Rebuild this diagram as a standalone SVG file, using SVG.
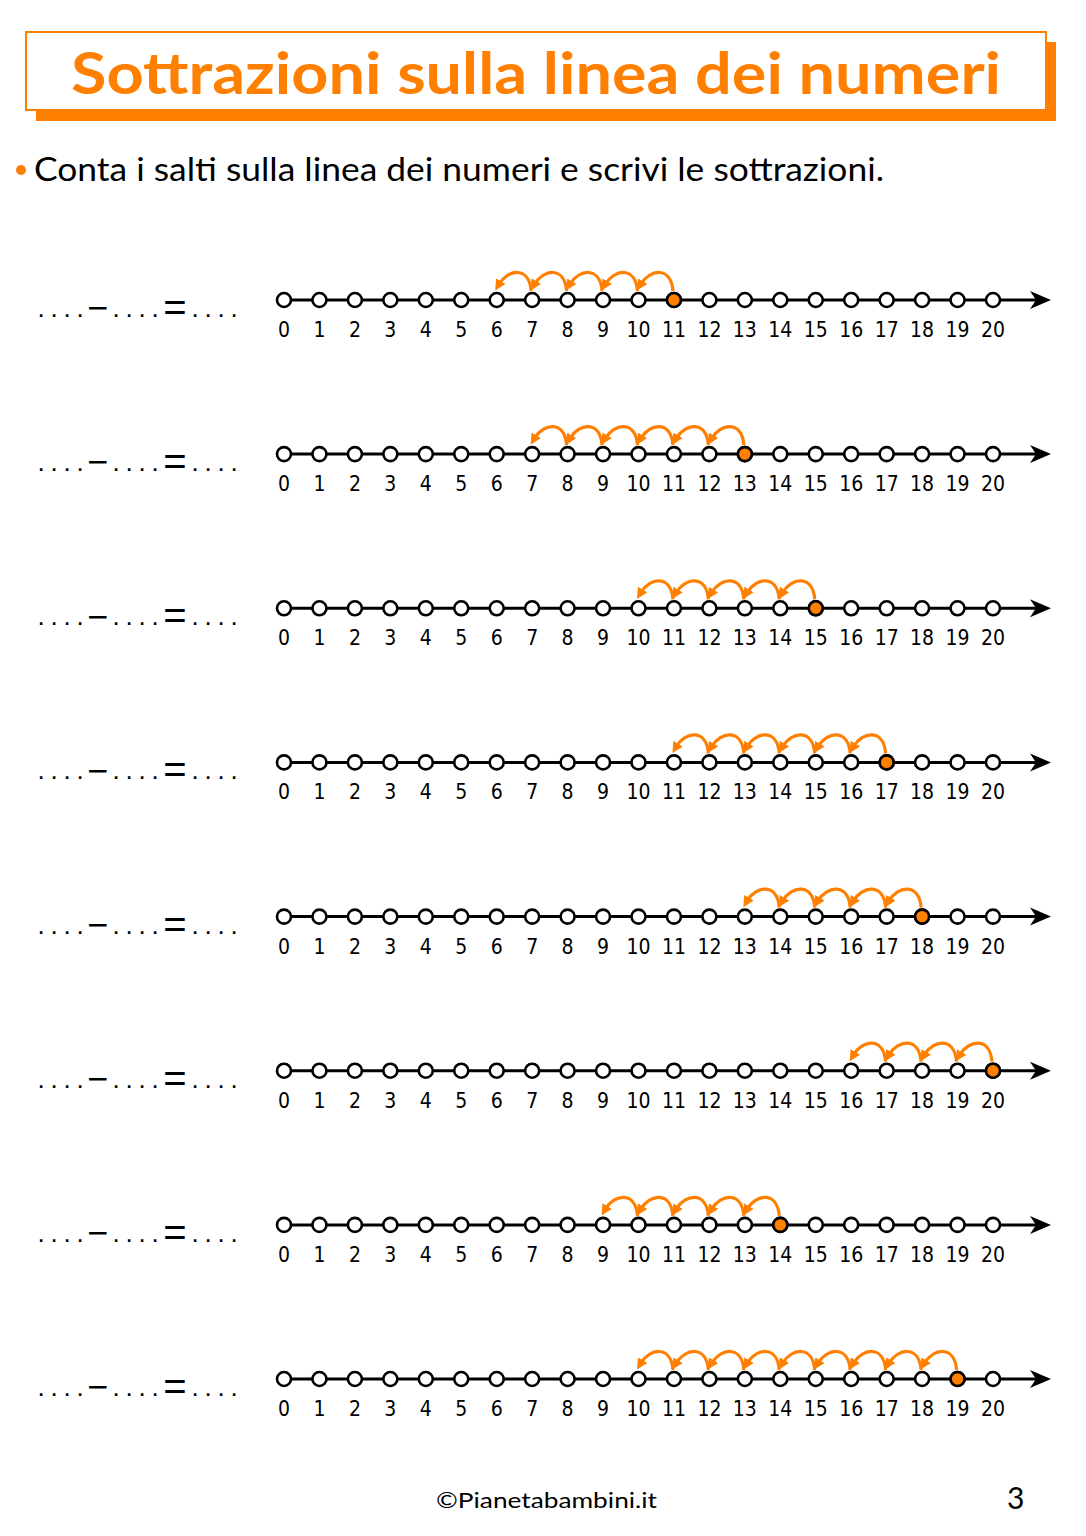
<svg xmlns="http://www.w3.org/2000/svg" xmlns:xlink="http://www.w3.org/1999/xlink" width="1086" height="1536" viewBox="0 0 1086 1536">
<style>
.ax{stroke:#000;stroke-width:3;fill:none}
.c{fill:#fff;stroke:#000;stroke-width:2.6}
.on{fill:#FF7F00;stroke:#000;stroke-width:2.6}
.n{font-family:"DejaVu Sans Condensed","DejaVu Sans",sans-serif;font-size:21px;text-anchor:middle;fill:#000}
.eq{font-family:"Liberation Sans",Arial,sans-serif;font-size:26px;fill:#000}
.mi{font-size:36px}
.es{font-size:40px}
.jp{fill:none;stroke:#FF7F00;stroke-width:3.2;marker-end:url(#ah)}
.tt{font-family:Lato,"Open Sans",sans-serif;font-weight:bold;font-size:58px;fill:#FF7F00;text-anchor:middle}
.st{font-family:Lato,"Open Sans",sans-serif;font-size:32px;fill:#000}
.ft{font-family:Lato,"Open Sans",sans-serif;font-size:22px;fill:#000}
</style>
<defs>
<marker id="ah" viewBox="0 0 10 10" refX="3" refY="5" markerWidth="11" markerHeight="11" markerUnits="userSpaceOnUse" orient="auto">
<path d="M0,0 L10,5 L0,10 z" fill="#FF7F00"/>
</marker>
<circle id="c" r="7" class="c"/>
<path id="j" d="M-1,-9 C-3,-34 -24,-31 -33,-16" class="jp"/>
<polygon id="ar" points="1051,0 1030,-9 1036,0 1030,9" fill="#000"/>
</defs>

<g id="title">
<rect x="36" y="42" width="1020" height="79" fill="#FF7F00"/>
<rect x="26" y="32" width="1020" height="78" fill="#fff" stroke="#FF7F00" stroke-width="2"/>
<text x="536" y="94" class="tt" textLength="930" lengthAdjust="spacingAndGlyphs">Sottrazioni sulla linea dei numeri</text>
</g>

<g id="instruction">
<circle cx="21" cy="170" r="5" fill="#FF7F00"/>
<text x="34" y="181" class="st" textLength="850" lengthAdjust="spacingAndGlyphs">Conta i salti sulla linea dei numeri e scrivi le sottrazioni.</text>
</g>

<g id="row1" transform="translate(0,300)">
<text class="eq"><tspan x="37.4 50.4 63.4 76.4" y="17">....</tspan><tspan class="mi" x="87.2" y="20.2">−</tspan><tspan x="112.4 125.4 138.4 151.4" y="17">....</tspan><tspan class="es" x="163.3" y="21">=</tspan><tspan x="191.4 204.4 217.4 230.4" y="17">....</tspan></text>
<line x1="284" y1="0" x2="1040" y2="0" class="ax"/><use href="#ar"/>
<use href="#c" x="284"/><use href="#c" x="319.45"/><use href="#c" x="354.9"/><use href="#c" x="390.35"/><use href="#c" x="425.8"/><use href="#c" x="461.25"/><use href="#c" x="496.7"/><use href="#c" x="532.15"/><use href="#c" x="567.6"/><use href="#c" x="603.05"/><use href="#c" x="638.5"/><use href="#c" x="673.95"/><use href="#c" x="709.4"/><use href="#c" x="744.85"/><use href="#c" x="780.3"/><use href="#c" x="815.75"/><use href="#c" x="851.2"/><use href="#c" x="886.65"/><use href="#c" x="922.1"/><use href="#c" x="957.55"/><use href="#c" x="993"/>
<circle cx="673.95" cy="0" r="7" class="on"/>
<text class="n" x="284" y="37">0</text><text class="n" x="319.45" y="37">1</text><text class="n" x="354.9" y="37">2</text><text class="n" x="390.35" y="37">3</text><text class="n" x="425.8" y="37">4</text><text class="n" x="461.25" y="37">5</text><text class="n" x="496.7" y="37">6</text><text class="n" x="532.15" y="37">7</text><text class="n" x="567.6" y="37">8</text><text class="n" x="603.05" y="37">9</text><text class="n" x="638.5" y="37">10</text><text class="n" x="673.95" y="37">11</text><text class="n" x="709.4" y="37">12</text><text class="n" x="744.85" y="37">13</text><text class="n" x="780.3" y="37">14</text><text class="n" x="815.75" y="37">15</text><text class="n" x="851.2" y="37">16</text><text class="n" x="886.65" y="37">17</text><text class="n" x="922.1" y="37">18</text><text class="n" x="957.55" y="37">19</text><text class="n" x="993" y="37">20</text>
</g>

<g id="row2" transform="translate(0,454.1)">
<text class="eq"><tspan x="37.4 50.4 63.4 76.4" y="17">....</tspan><tspan class="mi" x="87.2" y="20.2">−</tspan><tspan x="112.4 125.4 138.4 151.4" y="17">....</tspan><tspan class="es" x="163.3" y="21">=</tspan><tspan x="191.4 204.4 217.4 230.4" y="17">....</tspan></text>
<line x1="284" y1="0" x2="1040" y2="0" class="ax"/><use href="#ar"/>
<use href="#c" x="284"/><use href="#c" x="319.45"/><use href="#c" x="354.9"/><use href="#c" x="390.35"/><use href="#c" x="425.8"/><use href="#c" x="461.25"/><use href="#c" x="496.7"/><use href="#c" x="532.15"/><use href="#c" x="567.6"/><use href="#c" x="603.05"/><use href="#c" x="638.5"/><use href="#c" x="673.95"/><use href="#c" x="709.4"/><use href="#c" x="744.85"/><use href="#c" x="780.3"/><use href="#c" x="815.75"/><use href="#c" x="851.2"/><use href="#c" x="886.65"/><use href="#c" x="922.1"/><use href="#c" x="957.55"/><use href="#c" x="993"/>
<circle cx="744.85" cy="0" r="7" class="on"/>
<text class="n" x="284" y="37">0</text><text class="n" x="319.45" y="37">1</text><text class="n" x="354.9" y="37">2</text><text class="n" x="390.35" y="37">3</text><text class="n" x="425.8" y="37">4</text><text class="n" x="461.25" y="37">5</text><text class="n" x="496.7" y="37">6</text><text class="n" x="532.15" y="37">7</text><text class="n" x="567.6" y="37">8</text><text class="n" x="603.05" y="37">9</text><text class="n" x="638.5" y="37">10</text><text class="n" x="673.95" y="37">11</text><text class="n" x="709.4" y="37">12</text><text class="n" x="744.85" y="37">13</text><text class="n" x="780.3" y="37">14</text><text class="n" x="815.75" y="37">15</text><text class="n" x="851.2" y="37">16</text><text class="n" x="886.65" y="37">17</text><text class="n" x="922.1" y="37">18</text><text class="n" x="957.55" y="37">19</text><text class="n" x="993" y="37">20</text>
</g>

<g id="row3" transform="translate(0,608.3)">
<text class="eq"><tspan x="37.4 50.4 63.4 76.4" y="17">....</tspan><tspan class="mi" x="87.2" y="20.2">−</tspan><tspan x="112.4 125.4 138.4 151.4" y="17">....</tspan><tspan class="es" x="163.3" y="21">=</tspan><tspan x="191.4 204.4 217.4 230.4" y="17">....</tspan></text>
<line x1="284" y1="0" x2="1040" y2="0" class="ax"/><use href="#ar"/>
<use href="#c" x="284"/><use href="#c" x="319.45"/><use href="#c" x="354.9"/><use href="#c" x="390.35"/><use href="#c" x="425.8"/><use href="#c" x="461.25"/><use href="#c" x="496.7"/><use href="#c" x="532.15"/><use href="#c" x="567.6"/><use href="#c" x="603.05"/><use href="#c" x="638.5"/><use href="#c" x="673.95"/><use href="#c" x="709.4"/><use href="#c" x="744.85"/><use href="#c" x="780.3"/><use href="#c" x="815.75"/><use href="#c" x="851.2"/><use href="#c" x="886.65"/><use href="#c" x="922.1"/><use href="#c" x="957.55"/><use href="#c" x="993"/>
<circle cx="815.75" cy="0" r="7" class="on"/>
<text class="n" x="284" y="37">0</text><text class="n" x="319.45" y="37">1</text><text class="n" x="354.9" y="37">2</text><text class="n" x="390.35" y="37">3</text><text class="n" x="425.8" y="37">4</text><text class="n" x="461.25" y="37">5</text><text class="n" x="496.7" y="37">6</text><text class="n" x="532.15" y="37">7</text><text class="n" x="567.6" y="37">8</text><text class="n" x="603.05" y="37">9</text><text class="n" x="638.5" y="37">10</text><text class="n" x="673.95" y="37">11</text><text class="n" x="709.4" y="37">12</text><text class="n" x="744.85" y="37">13</text><text class="n" x="780.3" y="37">14</text><text class="n" x="815.75" y="37">15</text><text class="n" x="851.2" y="37">16</text><text class="n" x="886.65" y="37">17</text><text class="n" x="922.1" y="37">18</text><text class="n" x="957.55" y="37">19</text><text class="n" x="993" y="37">20</text>
</g>

<g id="row4" transform="translate(0,762.4)">
<text class="eq"><tspan x="37.4 50.4 63.4 76.4" y="17">....</tspan><tspan class="mi" x="87.2" y="20.2">−</tspan><tspan x="112.4 125.4 138.4 151.4" y="17">....</tspan><tspan class="es" x="163.3" y="21">=</tspan><tspan x="191.4 204.4 217.4 230.4" y="17">....</tspan></text>
<line x1="284" y1="0" x2="1040" y2="0" class="ax"/><use href="#ar"/>
<use href="#c" x="284"/><use href="#c" x="319.45"/><use href="#c" x="354.9"/><use href="#c" x="390.35"/><use href="#c" x="425.8"/><use href="#c" x="461.25"/><use href="#c" x="496.7"/><use href="#c" x="532.15"/><use href="#c" x="567.6"/><use href="#c" x="603.05"/><use href="#c" x="638.5"/><use href="#c" x="673.95"/><use href="#c" x="709.4"/><use href="#c" x="744.85"/><use href="#c" x="780.3"/><use href="#c" x="815.75"/><use href="#c" x="851.2"/><use href="#c" x="886.65"/><use href="#c" x="922.1"/><use href="#c" x="957.55"/><use href="#c" x="993"/>
<circle cx="886.65" cy="0" r="7" class="on"/>
<text class="n" x="284" y="37">0</text><text class="n" x="319.45" y="37">1</text><text class="n" x="354.9" y="37">2</text><text class="n" x="390.35" y="37">3</text><text class="n" x="425.8" y="37">4</text><text class="n" x="461.25" y="37">5</text><text class="n" x="496.7" y="37">6</text><text class="n" x="532.15" y="37">7</text><text class="n" x="567.6" y="37">8</text><text class="n" x="603.05" y="37">9</text><text class="n" x="638.5" y="37">10</text><text class="n" x="673.95" y="37">11</text><text class="n" x="709.4" y="37">12</text><text class="n" x="744.85" y="37">13</text><text class="n" x="780.3" y="37">14</text><text class="n" x="815.75" y="37">15</text><text class="n" x="851.2" y="37">16</text><text class="n" x="886.65" y="37">17</text><text class="n" x="922.1" y="37">18</text><text class="n" x="957.55" y="37">19</text><text class="n" x="993" y="37">20</text>
</g>

<g id="row5" transform="translate(0,916.6)">
<text class="eq"><tspan x="37.4 50.4 63.4 76.4" y="17">....</tspan><tspan class="mi" x="87.2" y="20.2">−</tspan><tspan x="112.4 125.4 138.4 151.4" y="17">....</tspan><tspan class="es" x="163.3" y="21">=</tspan><tspan x="191.4 204.4 217.4 230.4" y="17">....</tspan></text>
<line x1="284" y1="0" x2="1040" y2="0" class="ax"/><use href="#ar"/>
<use href="#c" x="284"/><use href="#c" x="319.45"/><use href="#c" x="354.9"/><use href="#c" x="390.35"/><use href="#c" x="425.8"/><use href="#c" x="461.25"/><use href="#c" x="496.7"/><use href="#c" x="532.15"/><use href="#c" x="567.6"/><use href="#c" x="603.05"/><use href="#c" x="638.5"/><use href="#c" x="673.95"/><use href="#c" x="709.4"/><use href="#c" x="744.85"/><use href="#c" x="780.3"/><use href="#c" x="815.75"/><use href="#c" x="851.2"/><use href="#c" x="886.65"/><use href="#c" x="922.1"/><use href="#c" x="957.55"/><use href="#c" x="993"/>
<circle cx="922.1" cy="0" r="7" class="on"/>
<text class="n" x="284" y="37">0</text><text class="n" x="319.45" y="37">1</text><text class="n" x="354.9" y="37">2</text><text class="n" x="390.35" y="37">3</text><text class="n" x="425.8" y="37">4</text><text class="n" x="461.25" y="37">5</text><text class="n" x="496.7" y="37">6</text><text class="n" x="532.15" y="37">7</text><text class="n" x="567.6" y="37">8</text><text class="n" x="603.05" y="37">9</text><text class="n" x="638.5" y="37">10</text><text class="n" x="673.95" y="37">11</text><text class="n" x="709.4" y="37">12</text><text class="n" x="744.85" y="37">13</text><text class="n" x="780.3" y="37">14</text><text class="n" x="815.75" y="37">15</text><text class="n" x="851.2" y="37">16</text><text class="n" x="886.65" y="37">17</text><text class="n" x="922.1" y="37">18</text><text class="n" x="957.55" y="37">19</text><text class="n" x="993" y="37">20</text>
</g>

<g id="row6" transform="translate(0,1070.7)">
<text class="eq"><tspan x="37.4 50.4 63.4 76.4" y="17">....</tspan><tspan class="mi" x="87.2" y="20.2">−</tspan><tspan x="112.4 125.4 138.4 151.4" y="17">....</tspan><tspan class="es" x="163.3" y="21">=</tspan><tspan x="191.4 204.4 217.4 230.4" y="17">....</tspan></text>
<line x1="284" y1="0" x2="1040" y2="0" class="ax"/><use href="#ar"/>
<use href="#c" x="284"/><use href="#c" x="319.45"/><use href="#c" x="354.9"/><use href="#c" x="390.35"/><use href="#c" x="425.8"/><use href="#c" x="461.25"/><use href="#c" x="496.7"/><use href="#c" x="532.15"/><use href="#c" x="567.6"/><use href="#c" x="603.05"/><use href="#c" x="638.5"/><use href="#c" x="673.95"/><use href="#c" x="709.4"/><use href="#c" x="744.85"/><use href="#c" x="780.3"/><use href="#c" x="815.75"/><use href="#c" x="851.2"/><use href="#c" x="886.65"/><use href="#c" x="922.1"/><use href="#c" x="957.55"/><use href="#c" x="993"/>
<circle cx="993" cy="0" r="7" class="on"/>
<text class="n" x="284" y="37">0</text><text class="n" x="319.45" y="37">1</text><text class="n" x="354.9" y="37">2</text><text class="n" x="390.35" y="37">3</text><text class="n" x="425.8" y="37">4</text><text class="n" x="461.25" y="37">5</text><text class="n" x="496.7" y="37">6</text><text class="n" x="532.15" y="37">7</text><text class="n" x="567.6" y="37">8</text><text class="n" x="603.05" y="37">9</text><text class="n" x="638.5" y="37">10</text><text class="n" x="673.95" y="37">11</text><text class="n" x="709.4" y="37">12</text><text class="n" x="744.85" y="37">13</text><text class="n" x="780.3" y="37">14</text><text class="n" x="815.75" y="37">15</text><text class="n" x="851.2" y="37">16</text><text class="n" x="886.65" y="37">17</text><text class="n" x="922.1" y="37">18</text><text class="n" x="957.55" y="37">19</text><text class="n" x="993" y="37">20</text>
</g>

<g id="row7" transform="translate(0,1224.9)">
<text class="eq"><tspan x="37.4 50.4 63.4 76.4" y="17">....</tspan><tspan class="mi" x="87.2" y="20.2">−</tspan><tspan x="112.4 125.4 138.4 151.4" y="17">....</tspan><tspan class="es" x="163.3" y="21">=</tspan><tspan x="191.4 204.4 217.4 230.4" y="17">....</tspan></text>
<line x1="284" y1="0" x2="1040" y2="0" class="ax"/><use href="#ar"/>
<use href="#c" x="284"/><use href="#c" x="319.45"/><use href="#c" x="354.9"/><use href="#c" x="390.35"/><use href="#c" x="425.8"/><use href="#c" x="461.25"/><use href="#c" x="496.7"/><use href="#c" x="532.15"/><use href="#c" x="567.6"/><use href="#c" x="603.05"/><use href="#c" x="638.5"/><use href="#c" x="673.95"/><use href="#c" x="709.4"/><use href="#c" x="744.85"/><use href="#c" x="780.3"/><use href="#c" x="815.75"/><use href="#c" x="851.2"/><use href="#c" x="886.65"/><use href="#c" x="922.1"/><use href="#c" x="957.55"/><use href="#c" x="993"/>
<circle cx="780.3" cy="0" r="7" class="on"/>
<text class="n" x="284" y="37">0</text><text class="n" x="319.45" y="37">1</text><text class="n" x="354.9" y="37">2</text><text class="n" x="390.35" y="37">3</text><text class="n" x="425.8" y="37">4</text><text class="n" x="461.25" y="37">5</text><text class="n" x="496.7" y="37">6</text><text class="n" x="532.15" y="37">7</text><text class="n" x="567.6" y="37">8</text><text class="n" x="603.05" y="37">9</text><text class="n" x="638.5" y="37">10</text><text class="n" x="673.95" y="37">11</text><text class="n" x="709.4" y="37">12</text><text class="n" x="744.85" y="37">13</text><text class="n" x="780.3" y="37">14</text><text class="n" x="815.75" y="37">15</text><text class="n" x="851.2" y="37">16</text><text class="n" x="886.65" y="37">17</text><text class="n" x="922.1" y="37">18</text><text class="n" x="957.55" y="37">19</text><text class="n" x="993" y="37">20</text>
</g>

<g id="row8" transform="translate(0,1379)">
<text class="eq"><tspan x="37.4 50.4 63.4 76.4" y="17">....</tspan><tspan class="mi" x="87.2" y="20.2">−</tspan><tspan x="112.4 125.4 138.4 151.4" y="17">....</tspan><tspan class="es" x="163.3" y="21">=</tspan><tspan x="191.4 204.4 217.4 230.4" y="17">....</tspan></text>
<line x1="284" y1="0" x2="1040" y2="0" class="ax"/><use href="#ar"/>
<use href="#c" x="284"/><use href="#c" x="319.45"/><use href="#c" x="354.9"/><use href="#c" x="390.35"/><use href="#c" x="425.8"/><use href="#c" x="461.25"/><use href="#c" x="496.7"/><use href="#c" x="532.15"/><use href="#c" x="567.6"/><use href="#c" x="603.05"/><use href="#c" x="638.5"/><use href="#c" x="673.95"/><use href="#c" x="709.4"/><use href="#c" x="744.85"/><use href="#c" x="780.3"/><use href="#c" x="815.75"/><use href="#c" x="851.2"/><use href="#c" x="886.65"/><use href="#c" x="922.1"/><use href="#c" x="957.55"/><use href="#c" x="993"/>
<circle cx="957.55" cy="0" r="7" class="on"/>
<text class="n" x="284" y="37">0</text><text class="n" x="319.45" y="37">1</text><text class="n" x="354.9" y="37">2</text><text class="n" x="390.35" y="37">3</text><text class="n" x="425.8" y="37">4</text><text class="n" x="461.25" y="37">5</text><text class="n" x="496.7" y="37">6</text><text class="n" x="532.15" y="37">7</text><text class="n" x="567.6" y="37">8</text><text class="n" x="603.05" y="37">9</text><text class="n" x="638.5" y="37">10</text><text class="n" x="673.95" y="37">11</text><text class="n" x="709.4" y="37">12</text><text class="n" x="744.85" y="37">13</text><text class="n" x="780.3" y="37">14</text><text class="n" x="815.75" y="37">15</text><text class="n" x="851.2" y="37">16</text><text class="n" x="886.65" y="37">17</text><text class="n" x="922.1" y="37">18</text><text class="n" x="957.55" y="37">19</text><text class="n" x="993" y="37">20</text>
</g>

<g id="connectors">
<g transform="translate(0,300)"><use href="#j" x="673.95"/><use href="#j" x="638.5"/><use href="#j" x="603.05"/><use href="#j" x="567.6"/><use href="#j" x="532.15"/></g>
<g transform="translate(0,454.1)"><use href="#j" x="744.85"/><use href="#j" x="709.4"/><use href="#j" x="673.95"/><use href="#j" x="638.5"/><use href="#j" x="603.05"/><use href="#j" x="567.6"/></g>
<g transform="translate(0,608.3)"><use href="#j" x="815.75"/><use href="#j" x="780.3"/><use href="#j" x="744.85"/><use href="#j" x="709.4"/><use href="#j" x="673.95"/></g>
<g transform="translate(0,762.4)"><use href="#j" x="886.65"/><use href="#j" x="851.2"/><use href="#j" x="815.75"/><use href="#j" x="780.3"/><use href="#j" x="744.85"/><use href="#j" x="709.4"/></g>
<g transform="translate(0,916.6)"><use href="#j" x="922.1"/><use href="#j" x="886.65"/><use href="#j" x="851.2"/><use href="#j" x="815.75"/><use href="#j" x="780.3"/></g>
<g transform="translate(0,1070.7)"><use href="#j" x="993"/><use href="#j" x="957.55"/><use href="#j" x="922.1"/><use href="#j" x="886.65"/></g>
<g transform="translate(0,1224.9)"><use href="#j" x="780.3"/><use href="#j" x="744.85"/><use href="#j" x="709.4"/><use href="#j" x="673.95"/><use href="#j" x="638.5"/></g>
<g transform="translate(0,1379)"><use href="#j" x="957.55"/><use href="#j" x="922.1"/><use href="#j" x="886.65"/><use href="#j" x="851.2"/><use href="#j" x="815.75"/><use href="#j" x="780.3"/><use href="#j" x="744.85"/><use href="#j" x="709.4"/><use href="#j" x="673.95"/></g>
</g>

<g id="footer">
<text x="436" y="1508" class="ft" textLength="221" lengthAdjust="spacingAndGlyphs">©Pianetabambini.it</text>
<text x="1007" y="1509" class="ft" style="font-size:30px">3</text>
</g>
</svg>
